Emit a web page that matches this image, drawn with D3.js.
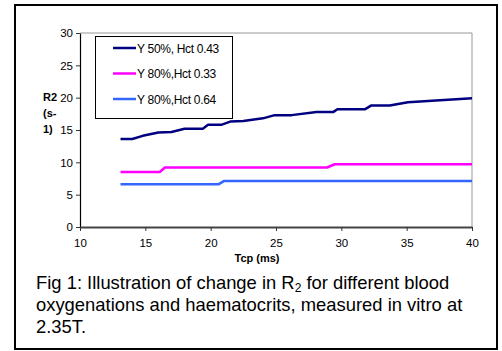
<!DOCTYPE html>
<html><head><meta charset="utf-8">
<script src="https://cdn.jsdelivr.net/npm/d3@7"></script>
<style>body{margin:0;background:#fff}svg{display:block}text{font-family:Arial,"Liberation Sans",sans-serif}</style>
</head><body>
<svg id="c" width="502" height="351"></svg>
<script>
const xTicks = [10, 15, 20, 25, 30, 35, 40];
const yTicks = [0, 5, 10, 15, 20, 25, 30];
const seriesNames = ["Y 50%, Hct 0.43", "Y 80%,Hct 0.33", "Y 80%,Hct 0.64"];
const seriesColors = ["#000080", "#ff00ff", "#3366ff"];
const navy = [[13.1,13.6],[14.0,13.6],[14.8,14.1],[16.0,14.6],[17.0,14.7],[18.0,15.2],[19.4,15.2],[19.8,15.8],[20.8,15.8],[21.5,16.3],[22.5,16.4],[24.0,16.8],[24.9,17.3],[26.2,17.3],[28.1,17.8],[29.4,17.8],[29.7,18.2],[31.8,18.2],[32.3,18.8],[33.7,18.8],[35.1,19.3],[40,19.9]];
const magenta = [[13.1,8.5],[16.1,8.5],[16.5,9.2],[28.9,9.2],[29.5,9.7],[40,9.7]];
const blue = [[13.1,6.6],[20.6,6.6],[21.0,7.1],[40,7.1]];
const series = [navy, magenta, blue];
const caption = ["Fig 1: Illustration of change in R|2| for different blood", "oxygenations and haematocrits, measured in vitro at", "2.35T."];

const svg = d3.select("#c");
svg.append("rect").attr("x",15).attr("y",5).attr("width",482).attr("height",344)
  .attr("fill","#fff").attr("stroke","#000").attr("stroke-width",2);

const x = d3.scaleLinear().domain([10,40]).range([80,472]);
const y = d3.scaleLinear().domain([0,30]).range([227,33]);

svg.append("path").attr("d",`M${x(10)},${y(30)}H${x(40)}V${y(0)}`).attr("fill","none").attr("stroke","#999").attr("stroke-width",1);

const yAx = svg.append("g").attr("transform",`translate(${x(10)},0)`)
  .call(d3.axisLeft(y).tickValues(yTicks).tickSize(4).tickSizeOuter(0).tickPadding(3));
const xAx = svg.append("g").attr("transform",`translate(0,${y(0)})`)
  .call(d3.axisBottom(x).tickValues(xTicks).tickSize(4).tickSizeOuter(0).tickPadding(8));
[yAx,xAx].forEach(a=>{
  a.selectAll("text").attr("font-size",11.5).attr("fill","#000").style("font-family","Arial,'Liberation Sans',sans-serif");
  a.selectAll("line").attr("stroke","#333");
});
yAx.select(".domain").attr("stroke","#000").attr("stroke-width",1.2);
xAx.select(".domain").attr("stroke","#444").attr("stroke-width",2);

const line = d3.line().x(d=>x(d[0])).y(d=>y(d[1]));
series.forEach((s,i)=>{
  svg.append("path").datum(s).attr("d",line).attr("fill","none")
    .attr("stroke",seriesColors[i]).attr("stroke-width",2.5).attr("stroke-linejoin","round");
});

const lg = svg.append("g");
lg.append("rect").attr("x",95.5).attr("y",36.5).attr("width",137).attr("height",82)
  .attr("fill","#fff").attr("stroke","#000").attr("stroke-width",1);
seriesNames.forEach((n,i)=>{
  const cy = 48 + i*25.5;
  lg.append("line").attr("x1",113).attr("x2",136).attr("y1",cy).attr("y2",cy)
    .attr("stroke",seriesColors[i]).attr("stroke-width",2.5);
  lg.append("text").attr("x",137).attr("y",cy+4.5).attr("font-size",12).attr("letter-spacing",-0.3).text(n);
});

const yl = svg.append("text").attr("font-size",11).attr("font-weight","bold");
["R2","(s-","1)"].forEach((t,i)=>yl.append("tspan").attr("x",43).attr("y",101+i*16).text(t));

svg.append("text").attr("x",257).attr("y",262).attr("text-anchor","middle")
  .attr("font-size",11).attr("font-weight","bold").text("Tcp (ms)");

caption.forEach((c,i)=>{
  const t = svg.append("text").attr("x",36).attr("y",289+i*22).attr("font-size",18.4);
  const parts = c.split("|");
  parts.forEach((p,j)=>{
    const ts = t.append("tspan").text(p);
    if(j===1){ ts.attr("font-size",12).attr("dy",3); }
    else if(j===2){ ts.attr("dy",-3); }
  });
});
</script>
</body></html>
